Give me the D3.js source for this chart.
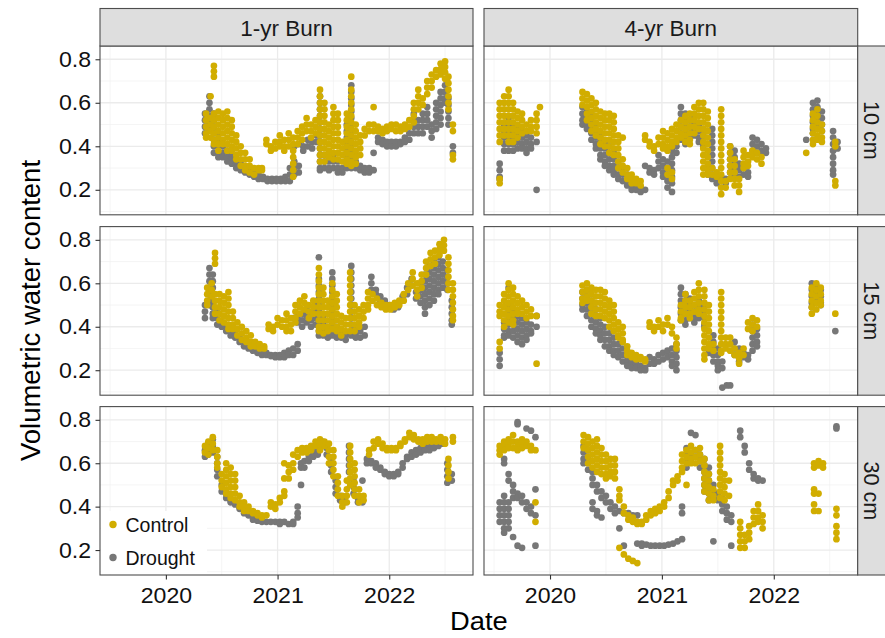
<!DOCTYPE html>
<html><head><meta charset="utf-8">
<script src="https://cdn.jsdelivr.net/npm/d3@7"></script>
<style>body{margin:0;background:#fff}svg{display:block}</style>
</head><body><svg id="c" width="885" height="638"></svg>
<script>
const burns=["1-yr Burn","4-yr Burn"];
const depths=["10 cm","15 cm","30 cm"];
const treatments=["Control","Drought"];
const yTicks=[0.2,0.4,0.6,0.8];
const yMinor=[0.1,0.3,0.5,0.7];
const xTicks=[2020,2021,2022];
const xMinor=[2019.5,2020.5,2021.5,2022.5];

// each entry: [decimal year, value, value, ...]
const c1_10=[[2020.36,.55,.52,.49,.46,.44],[2020.40,.63,.53,.5,.47,.44],[2020.43,.77,.745,.72,.55,.52,.49,.46,.43,.41],[2020.47,.56,.53,.5,.47,.44,.41,.38],[2020.51,.55,.52,.49,.46,.43,.41],[2020.55,.56,.53,.5,.47,.44,.41,.38],[2020.59,.52,.49,.46,.43,.4,.38],[2020.63,.45,.42,.39,.36,.34],[2020.67,.4,.37,.34,.31],[2020.71,.37,.34,.31,.29],[2020.75,.34,.31,.28],[2020.79,.3,.27],[2020.83,.3,.29],[2020.86,.3,.29],[2020.90,.43,.41],[2020.94,.4,.38],[2020.98,.42,.39],[2021.02,.45,.42,.4],[2021.06,.43,.4,.38],[2021.10,.46,.43,.4],[2021.14,.44,.41,.38,.35,.32,.29,.26],[2021.18,.47,.44,.41],[2021.22,.49,.46,.43],[2021.26,.53,.5,.47],[2021.30,.5,.47,.44],[2021.34,.52,.49,.46],[2021.38,.66,.63,.6,.57,.54,.51,.48,.45,.42,.39,.36,.33],[2021.42,.6,.57,.54,.51,.48,.45,.42,.39,.36,.33],[2021.46,.5,.47,.44,.41,.38,.35],[2021.50,.58,.55,.52,.49,.46,.43,.4,.37,.34],[2021.54,.55,.52,.49,.46,.43,.4,.37,.34],[2021.58,.42,.39,.36,.33],[2021.62,.55,.52,.49,.46,.43,.4,.37,.34,.32],[2021.66,.72,.66,.63,.6,.57,.54,.51,.48,.45,.42,.39,.36,.33,.31],[2021.70,.5,.47,.44,.41,.38,.35,.32],[2021.74,.45,.42,.39,.36],[2021.78,.48,.45],[2021.82,.5,.47],[2021.86,.58,.5,.47],[2021.90,.49,.47],[2021.94,.48,.46],[2021.98,.49,.47],[2022.02,.5,.48],[2022.06,.5,.47],[2022.10,.49,.47],[2022.14,.5,.48],[2022.18,.52,.49],[2022.22,.6,.57,.54,.51],[2022.26,.66,.63,.6,.57],[2022.30,.62,.59],[2022.34,.7,.67,.64],[2022.38,.73,.7,.67],[2022.42,.75,.72],[2022.46,.78,.755,.73],[2022.50,.79,.765,.74,.71],[2022.53,.72,.69,.66,.63,.6,.57],[2022.57,.5,.47,.36,.34]];
const d1_10=[[2020.35,.55,.52,.49,.46],[2020.39,.63,.6,.57,.54,.51,.48],[2020.43,.55,.52,.49,.46,.43,.4,.37],[2020.47,.46,.43,.4,.37,.35],[2020.51,.4,.37,.35],[2020.55,.38,.35,.33],[2020.59,.36,.34,.32],[2020.63,.34,.32,.3],[2020.67,.32,.3,.29],[2020.71,.3,.28],[2020.75,.29,.27],[2020.79,.28,.26],[2020.83,.27,.25],[2020.87,.26,.25],[2020.91,.25,.24],[2020.95,.25,.24],[2020.99,.25,.24],[2021.03,.25,.24],[2021.07,.26,.24],[2021.11,.3,.27,.24],[2021.15,.33,.3,.27,.4],[2021.19,.31,.28,.41],[2021.23,.4,.38],[2021.27,.43,.4],[2021.31,.42,.39],[2021.35,.45,.42],[2021.38,.63,.6,.57,.54,.51,.48,.45,.42,.39,.36,.33,.3,.29],[2021.42,.36,.33,.3],[2021.46,.33,.3,.29],[2021.50,.36,.33,.3],[2021.54,.33,.3,.28],[2021.58,.3,.28],[2021.62,.5,.47,.44,.41,.38,.35,.32,.3],[2021.66,.68,.65,.62,.59,.56,.53,.5,.47,.44,.41,.38,.35,.32,.3],[2021.70,.36,.33,.3],[2021.74,.31,.29],[2021.78,.3,.28],[2021.82,.3,.28],[2021.86,.37,.29],[2021.90,.44,.42],[2021.94,.43,.41],[2021.98,.42,.4],[2022.02,.42,.4],[2022.06,.42,.4],[2022.10,.42,.41],[2022.14,.44,.42],[2022.18,.46,.43],[2022.22,.55,.52,.49,.46],[2022.26,.52,.49,.46],[2022.30,.55,.52,.49,.46],[2022.34,.58,.55,.52,.49],[2022.38,.5,.47,.44],[2022.42,.6,.57,.54,.51,.48],[2022.46,.65,.62,.59,.56,.53,.5],[2022.50,.68,.65,.62,.6],[2022.53,.62,.59,.56,.53,.5],[2022.57,.4,.37]];
const c1_15=[[2020.37,.58,.55,.52,.5],[2020.41,.6,.57,.54],[2020.44,.74,.715,.69,.55,.52,.49,.46],[2020.48,.55,.52,.49,.46,.43],[2020.52,.54,.51,.48,.45,.42],[2020.56,.56,.53,.5,.47,.44,.41,.39],[2020.60,.47,.44,.41,.39],[2020.64,.42,.39,.36],[2020.68,.4,.37,.34],[2020.72,.38,.35,.33],[2020.76,.36,.33,.31],[2020.80,.33,.31],[2020.84,.32,.3],[2020.88,.31,.3],[2020.92,.41,.39],[2020.96,.4,.38],[2021.00,.44,.41],[2021.04,.43,.4],[2021.08,.46,.43,.4,.38],[2021.12,.44,.41,.38],[2021.16,.5,.47,.44,.42],[2021.20,.52,.49,.46],[2021.24,.54,.51,.48],[2021.28,.5,.47,.44],[2021.32,.52,.49,.46],[2021.37,.67,.64,.61,.58,.55,.52,.49,.46,.43,.4,.38],[2021.41,.58,.55,.52,.49,.46,.43,.4,.37],[2021.45,.52,.49,.46,.43,.4,.38],[2021.49,.6,.57,.54,.51,.48,.45,.42,.39],[2021.53,.55,.52,.49,.46,.43,.4,.38],[2021.57,.45,.42,.39,.36],[2021.61,.44,.41,.38],[2021.65,.65,.62,.59,.56,.53,.5,.47,.44,.41,.38],[2021.69,.5,.47,.44,.41,.38],[2021.73,.48,.45,.42,.4],[2021.77,.5,.47,.44],[2021.81,.56,.53,.5,.48],[2021.85,.55,.52],[2021.89,.53,.5],[2021.93,.51,.49],[2021.97,.5,.48],[2022.01,.5,.48],[2022.05,.51,.49],[2022.09,.52,.5],[2022.13,.55,.52],[2022.17,.6,.57],[2022.21,.65,.62,.59],[2022.25,.6,.57,.54],[2022.29,.64,.61,.58],[2022.33,.7,.67,.64],[2022.37,.74,.71,.68],[2022.41,.75,.72,.69],[2022.45,.78,.755,.73],[2022.49,.8,.775,.75],[2022.53,.72,.69,.66,.63,.6,.57],[2022.57,.6,.57,.54,.51,.48,.45,.43]];
const d1_15=[[2020.35,.5,.47,.44],[2020.39,.67,.64,.61,.58,.55,.52,.5],[2020.42,.64,.61,.58,.55,.52,.49,.46,.44],[2020.46,.47,.44,.41],[2020.50,.42,.4],[2020.54,.4,.38],[2020.58,.38,.36],[2020.62,.37,.35],[2020.66,.35,.33],[2020.70,.33,.31],[2020.74,.32,.3],[2020.78,.3,.29],[2020.82,.29,.28],[2020.86,.28,.27],[2020.90,.28,.27],[2020.94,.27,.265],[2020.98,.27,.26],[2021.02,.27,.26],[2021.06,.28,.26],[2021.10,.29,.27],[2021.14,.3,.27,.44],[2021.18,.32,.29,.45,.42],[2021.22,.46,.43,.4],[2021.26,.48,.45,.42],[2021.30,.46,.43,.4],[2021.34,.5,.47,.44,.41],[2021.37,.72,.62,.59,.56,.53,.5,.47,.44,.41,.38,.36],[2021.41,.45,.42,.39,.36],[2021.45,.4,.37,.35],[2021.49,.65,.62,.59,.56,.53,.5,.47,.44,.41,.38,.36],[2021.53,.4,.37,.35],[2021.57,.37,.35],[2021.61,.36,.34],[2021.66,.68,.65,.62,.59,.56,.53,.5,.47,.44,.41,.38,.36],[2021.70,.4,.37,.35],[2021.74,.38,.35],[2021.78,.4,.36],[2021.84,.63,.6,.57],[2021.88,.57,.55],[2021.92,.54,.52],[2021.96,.52,.5],[2022.00,.5,.49],[2022.04,.5,.48],[2022.08,.51,.49],[2022.12,.54,.52],[2022.16,.58,.55],[2022.20,.62,.59],[2022.24,.56,.53],[2022.28,.6,.57,.54,.51],[2022.32,.64,.61,.58,.55,.52,.49,.46],[2022.36,.68,.65,.62,.59,.56,.53,.5],[2022.40,.7,.67,.64,.61,.58,.55,.52],[2022.44,.72,.69,.66,.63,.6,.57,.55],[2022.48,.7,.67,.64,.61,.58],[2022.52,.66,.63,.6,.57],[2022.56,.52,.49,.46,.43,.41]];
const c1_30=[[2020.35,.68,.65],[2020.38,.7,.67,.64],[2020.42,.72,.69,.66],[2020.46,.66,.63,.6,.58],[2020.50,.55,.52,.49],[2020.54,.6,.57,.54,.51,.48,.46],[2020.58,.58,.55,.52,.49,.46,.44],[2020.62,.55,.52,.49,.46,.43],[2020.66,.45,.42,.4],[2020.70,.42,.4,.38],[2020.74,.4,.38],[2020.78,.38,.37],[2020.82,.37,.36],[2020.86,.36,.35],[2020.90,.36],[2020.94,.42,.4],[2020.98,.41,.39],[2021.02,.44,.42],[2021.06,.6,.53,.47,.45],[2021.10,.59,.56,.53],[2021.14,.64,.6,.57],[2021.18,.66,.63],[2021.22,.67,.65],[2021.26,.67,.65],[2021.30,.68,.66],[2021.34,.7,.68],[2021.38,.71,.69,.66],[2021.42,.7,.68],[2021.46,.69,.66,.63,.6],[2021.50,.66,.63,.6,.57,.54],[2021.54,.54,.51,.48,.45],[2021.58,.45,.42,.4],[2021.62,.52,.48,.45,.42],[2021.65,.68,.65,.62,.59,.56,.53,.5],[2021.69,.6,.57,.54,.51,.48,.45],[2021.73,.48,.45,.42],[2021.77,.45,.43],[2021.82,.66,.64],[2021.86,.7,.67],[2021.90,.71,.69],[2021.94,.69,.67],[2021.98,.67,.66],[2022.02,.67,.66],[2022.06,.67,.66],[2022.10,.69,.68],[2022.14,.71,.7],[2022.18,.74,.72],[2022.22,.73,.71],[2022.26,.71,.7],[2022.30,.71,.69],[2022.34,.72,.7],[2022.38,.72,.7],[2022.42,.71,.7],[2022.46,.72,.7],[2022.50,.71,.69],[2022.53,.62,.59,.56,.53],[2022.57,.72,.7]];
const d1_30=[[2020.35,.66,.63],[2020.38,.69,.66,.64],[2020.42,.71,.68,.65],[2020.46,.63,.6,.57,.54],[2020.50,.5,.47],[2020.54,.46,.44],[2020.58,.43,.42],[2020.62,.42,.41],[2020.66,.4,.39],[2020.70,.38,.37],[2020.74,.37,.36],[2020.78,.35,.34],[2020.82,.34,.335],[2020.86,.34,.33],[2020.90,.33],[2020.94,.33],[2020.98,.33],[2021.02,.33,.32],[2021.06,.33],[2021.10,.32],[2021.14,.33,.32],[2021.18,.37,.35,.4],[2021.21,.5,.6,.58],[2021.24,.61,.58],[2021.28,.63,.61],[2021.32,.65,.63],[2021.36,.66,.64],[2021.40,.7,.68],[2021.44,.67,.64],[2021.48,.62,.59,.56],[2021.52,.52,.49,.46],[2021.56,.45,.43],[2021.60,.44,.42],[2021.64,.68,.65,.62,.59,.56],[2021.68,.52,.49,.46],[2021.72,.44,.42],[2021.76,.52,.43,.42],[2021.80,.62,.6],[2021.84,.61,.6],[2021.88,.6,.58],[2021.92,.58,.57],[2021.96,.56,.55],[2022.00,.55,.54],[2022.04,.55,.54],[2022.08,.56,.55],[2022.12,.6,.58],[2022.16,.63,.62],[2022.20,.65,.63],[2022.24,.66,.64],[2022.28,.67,.65],[2022.32,.68,.66],[2022.36,.68,.66],[2022.40,.69,.67],[2022.44,.7,.68],[2022.48,.7,.69],[2022.52,.6,.57,.54,.51],[2022.56,.55,.52]];
const c4_10=[[2019.55,.6,.57,.54,.51,.48,.45,.42,.25,.23],[2019.59,.63,.6,.57,.54,.51,.48,.45],[2019.63,.66,.63,.6,.57,.54,.51,.48,.45,.42],[2019.67,.6,.57,.54,.51,.48,.45,.42],[2019.71,.56,.53,.5,.47,.44],[2019.75,.55,.52,.49,.46],[2019.79,.5,.47],[2019.83,.52,.49,.47],[2019.88,.55,.52,.49,.46],[2019.91,.58],[2020.29,.65,.62,.59],[2020.33,.64,.61,.58,.55,.52],[2020.37,.62,.59,.56,.53,.5,.47],[2020.41,.6,.57,.54,.51,.48,.45],[2020.45,.56,.53,.5,.47,.44,.41],[2020.49,.55,.52,.49,.46,.43,.4],[2020.53,.55,.52,.49,.46,.43,.4,.37],[2020.57,.54,.51,.48,.45,.42,.39,.36],[2020.61,.45,.42,.39,.36,.33,.3],[2020.65,.44,.34,.31,.28],[2020.69,.3,.27,.25],[2020.73,.27,.25,.23],[2020.77,.25,.23],[2020.81,.24,.22],[2020.85,.45,.43],[2020.89,.42,.4],[2020.93,.4,.38],[2020.97,.44,.41],[2021.01,.47,.44,.41,.39],[2021.05,.46,.43,.4,.38,.3,.27],[2021.09,.48,.45,.42,.4,.28,.25],[2021.13,.5,.47,.44,.42],[2021.17,.52,.49,.46,.44],[2021.21,.54,.51,.48,.45,.42],[2021.25,.55,.52,.49,.46,.43,.41],[2021.29,.58,.55,.52,.49,.46],[2021.33,.6,.57,.54,.51,.48],[2021.37,.6,.57,.54,.51,.48,.45,.42,.39,.36,.33,.3,.27],[2021.41,.56,.53,.5,.47,.44,.41,.38,.35,.32,.29,.27],[2021.45,.3,.27],[2021.49,.28,.26],[2021.53,.57,.54,.51,.48,.45,.42,.39,.36,.33,.3,.27,.24,.21,.18],[2021.57,.24,.21],[2021.61,.4,.37,.34,.31,.28,.25],[2021.65,.34,.31,.28,.25,.22],[2021.69,.25,.22,.19],[2021.73,.38,.35,.32,.3],[2021.77,.36,.33,.31],[2021.81,.38,.35],[2021.85,.37,.34],[2021.89,.35,.32],[2022.29,.37],[2022.35,.55,.52,.49,.46,.43,.41],[2022.39,.57,.54,.51,.48,.45,.43],[2022.43,.5,.47,.44,.42],[2022.55,.42,.4,.24,.22]];
const d4_10=[[2019.55,.32,.29,.26,.25],[2019.59,.5,.47,.44,.41,.38],[2019.63,.53,.5,.47,.44,.41,.38],[2019.67,.5,.47,.44,.41,.38],[2019.71,.48,.45,.42,.39],[2019.75,.47,.44,.41,.39],[2019.79,.45,.42,.39,.37],[2019.83,.44,.41,.39],[2019.88,.42,.2],[2020.29,.58,.55,.52,.5],[2020.33,.56,.53,.5,.48],[2020.37,.55,.52,.49,.46,.43],[2020.41,.5,.47,.44,.41,.39],[2020.45,.45,.42,.39,.36,.34],[2020.49,.42,.39,.36,.33,.31],[2020.53,.4,.37,.34,.31,.29],[2020.57,.37,.34,.31,.29,.27],[2020.61,.33,.3,.27,.25],[2020.65,.3,.27,.24],[2020.69,.27,.245,.22],[2020.73,.25,.225,.2],[2020.77,.22,.2],[2020.81,.21,.19],[2020.85,.31,.2],[2020.89,.3,.28],[2020.93,.29,.27],[2020.97,.36,.33,.3],[2021.01,.34,.31,.28,.26],[2021.05,.33,.3,.27,.24,.21],[2021.09,.38,.35,.32,.29,.26,.23,.19],[2021.13,.4,.37],[2021.17,.58,.55,.52,.49,.46,.43],[2021.21,.55,.52,.49,.46,.43,.41],[2021.25,.52,.49,.46,.44],[2021.29,.54,.51,.48,.45],[2021.33,.5,.47,.44,.42],[2021.37,.48,.45,.42,.4],[2021.41,.3,.27],[2021.45,.48,.45,.42,.39,.36,.33,.3,.27,.25],[2021.49,.27,.25,.23],[2021.53,.26,.24],[2021.57,.25,.23],[2021.61,.4,.37,.34,.31,.28],[2021.65,.38,.35,.32,.29,.27],[2021.69,.32,.29,.26],[2021.73,.3,.27],[2021.77,.28,.26],[2021.81,.44,.41,.38],[2021.85,.43,.4,.37],[2021.89,.41,.38],[2021.93,.39,.37],[2022.29,.43],[2022.35,.6,.57,.54,.51,.48,.46],[2022.39,.61,.58,.55,.52,.49],[2022.43,.56,.53,.5,.47],[2022.53,.47,.44,.41,.38,.35,.32,.29,.27],[2022.57,.42,.39]];
const c4_15=[[2019.55,.5,.47,.45,.33,.3],[2019.59,.55,.52,.49,.46,.43,.4],[2019.63,.6,.57,.54,.51,.48,.45,.42],[2019.67,.58,.55,.52,.49,.46,.43,.41],[2019.71,.54,.51,.48,.46],[2019.75,.52,.49,.46],[2019.79,.5,.47,.44],[2019.83,.48,.45],[2019.88,.45,.23],[2020.29,.59,.56,.53,.51],[2020.33,.6,.57,.54,.52],[2020.37,.58,.55,.52,.49,.46],[2020.41,.57,.54,.51,.48,.45],[2020.45,.57,.54,.51,.48,.45],[2020.49,.56,.53,.5,.47,.44],[2020.53,.52,.49,.46,.43,.4],[2020.57,.5,.47,.44,.41,.38],[2020.61,.42,.39,.36,.35],[2020.65,.4,.37,.34,.33],[2020.69,.31,.29,.27],[2020.73,.28,.26],[2020.77,.27,.25],[2020.81,.26,.25],[2020.85,.25,.24],[2020.89,.42,.4],[2020.93,.4,.38],[2020.97,.43,.4],[2021.01,.41,.38],[2021.05,.44,.41],[2021.09,.4,.37],[2021.13,.35,.32,.3],[2021.17,.5,.47,.44,.43],[2021.21,.55,.52,.49,.46],[2021.25,.52,.49,.46,.44],[2021.29,.56,.53,.5,.47],[2021.33,.6,.57,.54,.51,.48,.46],[2021.38,.57,.54,.51,.48,.45,.42,.39,.36,.33,.3,.27,.25],[2021.42,.5,.47,.44,.41,.38,.35,.32,.3],[2021.46,.32,.29],[2021.53,.56,.53,.5,.47,.44,.41,.38,.35,.32,.29,.28],[2021.57,.35,.32,.3],[2021.61,.35,.32,.29],[2021.65,.3,.27],[2021.69,.28,.255,.23],[2021.73,.3,.27],[2021.77,.42,.39],[2021.81,.44,.41,.38],[2021.85,.43,.4],[2022.34,.58,.55,.52,.49,.46],[2022.38,.6,.57,.54,.51,.48],[2022.42,.58,.55,.52,.5],[2022.55,.46]];
const d4_15=[[2019.55,.28,.25,.22],[2019.59,.42,.39,.36,.35],[2019.63,.58,.5,.47,.44,.41,.38,.36],[2019.67,.47,.44,.41,.38,.35],[2019.71,.45,.42,.39,.36,.33],[2019.75,.44,.41,.38,.35,.32],[2019.79,.42,.39,.36,.34],[2019.83,.41,.38,.37],[2019.88,.45,.4],[2020.29,.56,.53,.5,.48],[2020.33,.57,.54,.51,.48,.45],[2020.37,.52,.49,.46,.43,.4],[2020.41,.48,.45,.42,.39,.37],[2020.45,.44,.41,.38,.36,.34],[2020.49,.4,.37,.34,.31],[2020.53,.37,.34,.31,.29],[2020.57,.35,.32,.29,.27],[2020.61,.32,.29,.26],[2020.65,.3,.27,.24],[2020.69,.27,.245,.22],[2020.73,.25,.23,.21],[2020.77,.23,.21],[2020.81,.22,.2],[2020.85,.21,.2],[2020.89,.26,.23],[2020.93,.25,.23],[2020.97,.27,.24],[2021.01,.28,.25],[2021.05,.29,.26],[2021.09,.3,.27,.24,.22],[2021.13,.32,.29,.26,.23,.2],[2021.17,.58,.55,.52,.49,.46,.43],[2021.21,.55,.52,.49,.46,.43,.41],[2021.25,.53,.5,.47,.44],[2021.29,.5,.47,.44,.42],[2021.33,.52,.49,.46,.44],[2021.38,.5,.47,.44,.41,.4],[2021.42,.3,.28],[2021.46,.36,.33,.3,.27,.24],[2021.50,.3,.27,.24,.22,.2],[2021.54,.24,.21,.12],[2021.58,.13],[2021.61,.13],[2021.65,.33,.3,.27],[2021.69,.3,.27,.24],[2021.73,.28,.26],[2021.77,.27,.25],[2021.81,.41,.38,.35,.32,.29],[2021.85,.39,.36,.33,.31],[2022.34,.6,.57,.54,.51,.49],[2022.38,.59,.56,.53,.51],[2022.42,.57,.54,.51,.5],[2022.55,.38]];
const c4_30=[[2019.55,.68,.66,.64],[2019.59,.7,.68,.66],[2019.63,.71,.69,.67],[2019.67,.73,.7,.67],[2019.71,.7,.68,.66],[2019.75,.71,.69,.67],[2019.79,.7,.68],[2019.83,.68,.66],[2019.87,.66,.42,.33],[2020.30,.73,.7,.67],[2020.34,.72,.69,.66,.63,.6],[2020.38,.7,.67,.64,.61,.58],[2020.42,.71,.68,.65,.62,.59,.56],[2020.46,.67,.64,.61,.58,.55],[2020.50,.64,.61,.58,.55,.53],[2020.54,.62,.59,.56,.54],[2020.58,.62,.59,.56,.53],[2020.62,.48,.45,.43,.21],[2020.66,.4,.37,.18],[2020.70,.36,.34,.16],[2020.74,.35,.33,.15],[2020.78,.33,.32,.14],[2020.82,.33,.32],[2020.86,.36,.34],[2020.90,.38,.36],[2020.94,.39,.37],[2020.98,.4,.38],[2021.02,.42,.4],[2021.06,.47,.44],[2021.10,.52,.5],[2021.14,.54,.52],[2021.18,.64,.61,.58,.56],[2021.22,.66,.63,.6,.5],[2021.26,.68,.65,.62,.6],[2021.30,.66,.63,.6],[2021.34,.67,.64,.61],[2021.38,.62,.59,.56,.53,.5,.47],[2021.42,.55,.52,.49,.46,.43],[2021.46,.48,.45,.43],[2021.52,.68,.65,.62,.59,.56,.53,.5,.47,.44],[2021.56,.55,.52,.49,.46,.43],[2021.60,.52,.45],[2021.70,.33,.3,.27,.24,.21],[2021.74,.27,.24,.21],[2021.78,.31,.28,.25],[2021.82,.38,.35,.32],[2021.86,.41,.38,.35,.33],[2021.90,.36,.33,.3],[2022.36,.6,.58,.48,.46,.41,.38],[2022.40,.61,.59,.46,.38],[2022.44,.6,.58],[2022.56,.39,.36,.31,.28,.25]];
const d4_30=[[2019.55,.42,.39,.36,.33],[2019.59,.62,.6,.45,.42,.39,.36,.33,.3,.28],[2019.63,.55,.52,.42,.39,.36,.33,.3],[2019.67,.5,.47,.44,.26],[2019.71,.79,.78,.46,.44,.22],[2019.75,.45,.42,.21],[2019.79,.76,.42,.39],[2019.83,.75,.4,.37],[2019.87,.72,.48,.36,.22],[2020.30,.68,.65,.62,.6],[2020.34,.66,.63,.6,.57],[2020.38,.56,.53,.5,.42,.39],[2020.42,.5,.47,.38,.36],[2020.46,.47,.44,.35],[2020.50,.45,.42],[2020.54,.42,.39],[2020.58,.4,.37],[2020.62,.38,.3],[2020.66,.37,.22],[2020.70,.37],[2020.74,.36],[2020.78,.23,.36],[2020.82,.23,.22],[2020.86,.225],[2020.90,.22],[2020.94,.22],[2020.98,.22],[2021.02,.22],[2021.06,.225],[2021.10,.23],[2021.14,.24],[2021.18,.25,.4,.37],[2021.22,.67,.64,.61,.58],[2021.26,.74,.64,.61],[2021.30,.73,.66,.63],[2021.34,.64,.61,.58],[2021.38,.62,.59,.56,.53,.5,.47],[2021.42,.58,.55,.52,.49,.46,.43],[2021.46,.5,.47,.45,.24],[2021.50,.46,.43],[2021.54,.44,.41,.38],[2021.58,.4,.37,.34],[2021.62,.36,.33,.22],[2021.70,.75,.72],[2021.74,.68,.65],[2021.78,.6,.57],[2021.82,.55,.53],[2021.86,.53,.52],[2021.90,.52],[2022.56,.77,.76]];

const panelData={
 "1-yr Burn|10 cm":{Control:c1_10,Drought:d1_10},
 "1-yr Burn|15 cm":{Control:c1_15,Drought:d1_15},
 "1-yr Burn|30 cm":{Control:c1_30,Drought:d1_30},
 "4-yr Burn|10 cm":{Control:c4_10,Drought:d4_10},
 "4-yr Burn|15 cm":{Control:c4_15,Drought:d4_15},
 "4-yr Burn|30 cm":{Control:c4_30,Drought:d4_30}
};

const colors={Control:"#d1ad00",Drought:"#777777"};
const FONT="'Liberation Sans', Arial, Helvetica, sans-serif";
const colX=[[100,473],[484,857.7]];
const rowY=[[46,214.8],[226.6,395.2],[406.6,575]];
const xDomain=[2019.41,2022.75];
const yDomain=[0.085,0.861];

const svg=d3.select("#c");
svg.append("rect").attr("width",885).attr("height",638).attr("fill","#fff");

function stretch(sel,f){sel.each(function(){const L=this.getComputedTextLength();if(L>0){this.setAttribute("textLength",L*f);this.setAttribute("lengthAdjust","spacingAndGlyphs");}});}

depths.forEach((dep,ri)=>{
  burns.forEach((burn,ci)=>{
    const x=d3.scaleLinear().domain(xDomain).range(colX[ci]);
    const y=d3.scaleLinear().domain(yDomain).range([rowY[ri][1],rowY[ri][0]]);
    const g=svg.append("g");
    const [x0,x1]=colX[ci],[y0,y1]=rowY[ri];
    g.append("rect").attr("x",x0).attr("y",y0).attr("width",x1-x0).attr("height",y1-y0).attr("fill","#fff");
    g.selectAll(".mx").data(xMinor).join("line").attr("class","mx").attr("x1",d=>x(d)).attr("x2",d=>x(d)).attr("y1",y0).attr("y2",y1).attr("stroke","#f0f0f0").attr("stroke-width",0.7);
    g.selectAll(".my").data(yMinor).join("line").attr("class","my").attr("y1",d=>y(d)).attr("y2",d=>y(d)).attr("x1",x0).attr("x2",x1).attr("stroke","#f0f0f0").attr("stroke-width",0.7);
    g.selectAll(".Mx").data(xTicks).join("line").attr("class","Mx").attr("x1",d=>x(d)).attr("x2",d=>x(d)).attr("y1",y0).attr("y2",y1).attr("stroke","#ebebeb").attr("stroke-width",1.3);
    g.selectAll(".My").data(yTicks).join("line").attr("class","My").attr("y1",d=>y(d)).attr("y2",d=>y(d)).attr("x1",x0).attr("x2",x1).attr("stroke","#ebebeb").attr("stroke-width",1.3);

    if(ri===2&&ci===0){
      const lg=g.append("g");
      lg.append("rect").attr("x",101).attr("y",511).attr("width",106).attr("height",63).attr("fill","#fff");
      treatments.forEach((t,i)=>{
        lg.append("circle").attr("cx",113).attr("cy",524.5+i*33).attr("r",3.7).attr("fill",colors[t]);
        lg.append("text").attr("x",125.5).attr("y",531.5+i*33).attr("font-family",FONT).attr("font-size",19.5).attr("fill","#111").text(t);
      });
    }

    const pd=panelData[burn+"|"+dep];
    ["Drought","Control"].forEach(t=>{
      const pts=[];
      pd[t].forEach(row=>{for(let k=1;k<row.length;k++)pts.push([row[0],row[k]]);});
      g.append("g").selectAll("circle").data(pts).join("circle")
        .attr("cx",d=>x(d[0])).attr("cy",d=>y(d[1])).attr("r",3.35).attr("fill",colors[t]);
    });
    g.append("rect").attr("x",x0).attr("y",y0).attr("width",x1-x0).attr("height",y1-y0).attr("fill","none").attr("stroke","#4d4d4d").attr("stroke-width",1.1);

    if(ci===0){
      const ax=svg.append("g").attr("transform",`translate(${x0},0)`)
        .call(d3.axisLeft(y).tickValues(yTicks).tickSize(4.5).tickPadding(4.5).tickFormat(d3.format(".1f")));
      ax.select(".domain").remove();
      ax.selectAll("line").attr("stroke","#333").attr("stroke-width",1.1);
      ax.selectAll("text").attr("font-family",FONT).attr("font-size",22).attr("fill","#111").call(stretch,1.05);
    }
    if(ri===2){
      const ax=svg.append("g").attr("transform",`translate(0,${y1})`)
        .call(d3.axisBottom(x).tickValues(xTicks).tickSize(4.5).tickPadding(7.5).tickFormat(d3.format("d")));
      ax.select(".domain").remove();
      ax.selectAll("line").attr("stroke","#333").attr("stroke-width",1.1);
      ax.selectAll("text").attr("font-family",FONT).attr("font-size",22).attr("fill","#111").call(stretch,1.05);
    }
    if(ri===0){
      svg.append("rect").attr("x",x0).attr("y",8.5).attr("width",x1-x0).attr("height",y0-8.5).attr("fill","#dedede").attr("stroke","#4d4d4d").attr("stroke-width",1.1);
      svg.append("text").attr("x",(x0+x1)/2).attr("y",36).attr("text-anchor","middle").attr("font-family",FONT).attr("font-size",22.5).attr("fill","#1a1a1a").text(burn);
    }
    if(ci===1){
      svg.append("rect").attr("x",x1).attr("y",y0).attr("width",38).attr("height",y1-y0).attr("fill","#dedede").attr("stroke","#4d4d4d").attr("stroke-width",1.1);
      svg.append("text").attr("transform",`translate(864,${(y0+y1)/2}) rotate(90)`).attr("text-anchor","middle").attr("font-family",FONT).attr("font-size",21.5).attr("fill","#1a1a1a").text(dep);
    }
  });
});

svg.append("text").attr("x",(colX[0][0]+colX[1][1])/2).attr("y",630).attr("text-anchor","middle").attr("font-family",FONT).attr("font-size",26).attr("fill","#000").text("Date").call(stretch,1.05);
svg.append("text").attr("transform",`translate(39.5,${(rowY[0][0]+rowY[2][1])/2}) rotate(-90)`).attr("text-anchor","middle").attr("font-family",FONT).attr("font-size",27.5).attr("fill","#000").text("Volumetric water content");
</script></body></html>
